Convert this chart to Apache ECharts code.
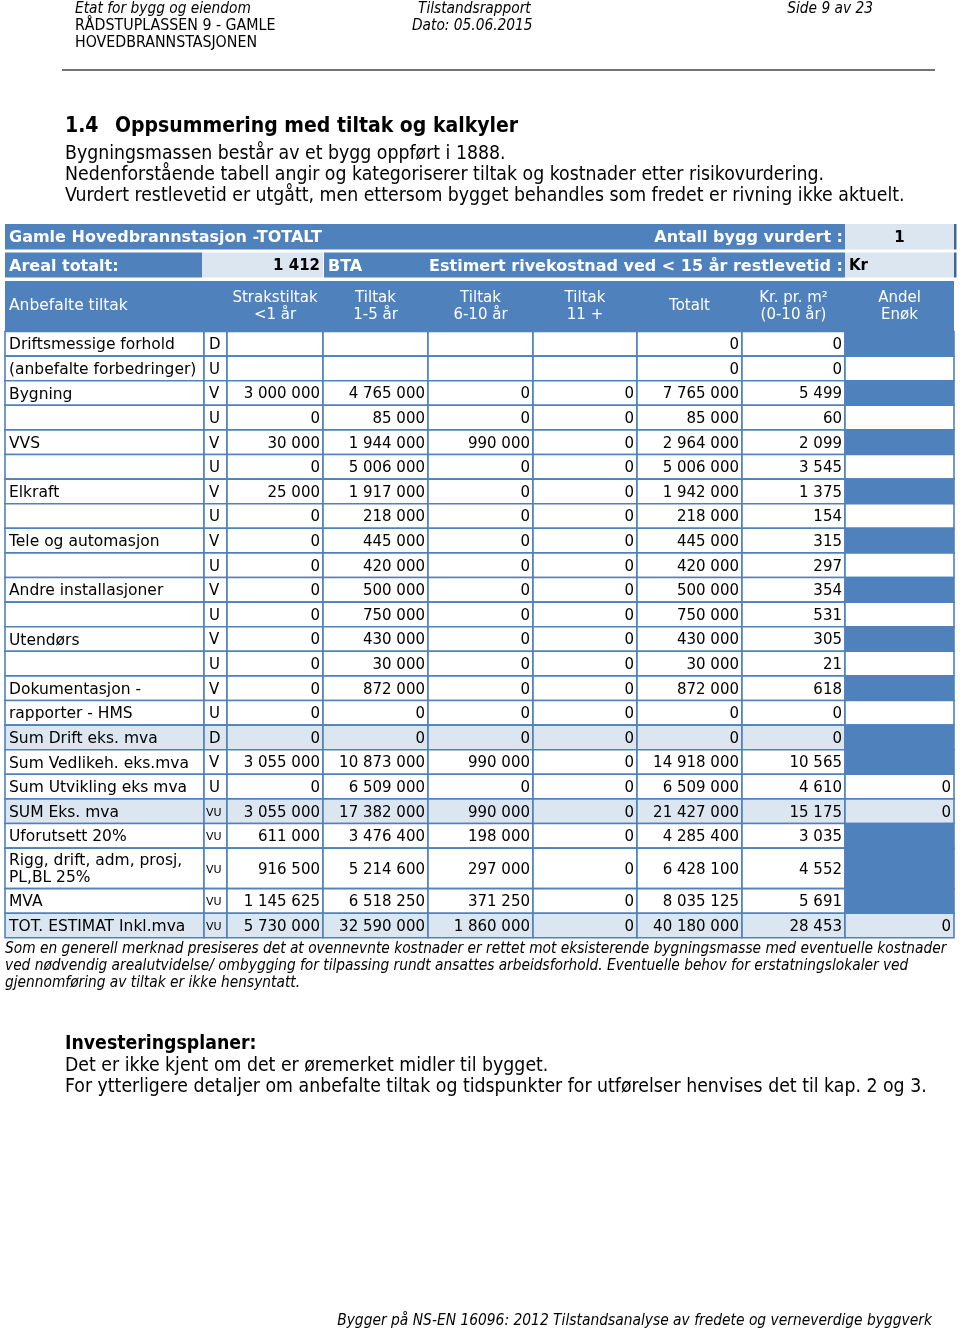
<!DOCTYPE html>
<html><head><meta charset="utf-8">
<script src="https://cdn.jsdelivr.net/npm/echarts@6/dist/echarts.min.js"></script>
<style>html,body{margin:0;padding:0;background:#fff}#c{width:960px;height:1330px}</style>
</head><body><div id="c"></div>
<script>
// ---------------- DATA ----------------
const rowLabels = ['Driftsmessige forhold', '(anbefalte forbedringer)', 'Bygning', '', 'VVS', '', 'Elkraft', '',
  'Tele og automasjon', '', 'Andre installasjoner', '', 'Utendørs', '', 'Dokumentasjon -', 'rapporter - HMS',
  'Sum Drift eks. mva', 'Sum Vedlikeh. eks.mva', 'Sum Utvikling eks mva', 'SUM Eks. mva', 'Uforutsett 20%',
  'Rigg, drift, adm, prosj,\nPL,BL 25%', 'MVA', 'TOT. ESTIMAT Inkl.mva'];
const rowCodes = ['D','U','V','U','V','U','V','U','V','U','V','U','V','U','V','U','D','V','U','VU','VU','VU','VU','VU'];
const strakstiltak = [null,null,3000000,0,30000,0,25000,0,0,0,0,0,0,0,0,0,0,3055000,0,3055000,611000,916500,1145625,5730000];
const tiltak1til5 = [null,null,4765000,85000,1944000,5006000,1917000,218000,445000,420000,500000,750000,430000,30000,872000,0,0,10873000,6509000,17382000,3476400,5214600,6518250,32590000];
const tiltak6til10 = [null,null,0,0,990000,0,0,0,0,0,0,0,0,0,0,0,0,990000,0,990000,198000,297000,371250,1860000];
const tiltak11pluss = [null,null,0,0,0,0,0,0,0,0,0,0,0,0,0,0,0,0,0,0,0,0,0,0];
const totalt = [0,0,7765000,85000,2964000,5006000,1942000,218000,445000,420000,500000,750000,430000,30000,872000,0,0,14918000,6509000,21427000,4285400,6428100,8035125,40180000];
const krPrM2 = [0,0,5499,60,2099,3545,1375,154,315,297,354,531,305,21,618,0,0,10565,4610,15175,3035,4552,5691,28453];
const andelEnok = [null,null,null,null,null,null,null,null,null,null,null,null,null,null,null,null,null,null,0,0,null,null,null,0];
const summaryRows = [16, 19, 23];
const columnHeaders = ['Anbefalte tiltak', 'Strakstiltak\n<1 år', 'Tiltak\n1-5 år', 'Tiltak\n6-10 år', 'Tiltak\n11 +', 'Totalt', 'Kr. pr. m²\n(0-10 år)', 'Andel\nEnøk'];
const tableTitle = 'Gamle Hovedbrannstasjon -TOTALT';
const antallByggLabel = 'Antall bygg vurdert :';
const antallBygg = 1;
const arealLabel = 'Areal totalt:';
const arealTotalt = 1412;
const arealUnit = 'BTA';
const riveLabel = 'Estimert rivekostnad ved < 15 år restlevetid :';
const riveValue = 'Kr';

// ---------------- LAYOUT / STYLE ----------------
const BLUE = '#4F81BD', LIGHT = '#DCE6F1', BORDER = '#4F81BD';
const FT = "'DejaVu Sans', Verdana, sans-serif";
const FP = "'DejaVu Sans Condensed', 'DejaVu Sans', sans-serif";
const COL = [5, 204, 227, 323, 428, 533, 637, 742, 845, 954];
const ROW_TOP0 = 331.5;
const rowHeight = i => (i === 21 ? 40.5 : 24.6);

function fmt(v) {
  if (v === null || v === undefined) return '';
  return String(v).replace(/\B(?=(\d{3})+(?!\d))/g, ' ');
}

const cells = [];
function addCell(x0, y0, x1, y1, fill, stroke, texts) {
  cells.push({ x0, y0, x1, y1, fill, stroke, texts: texts || [] });
}
function T(text, align, opt) { return Object.assign({ text, align, color: '#000', size: 15, weight: 'normal', pad: 3, dy: 1.5 }, opt || {}); }

// header row A
addCell(5, 224, 845, 249.5, BLUE, null, [
  T(tableTitle, 'left', { color: '#fff', weight: 'bold', size: 16, pad: 4 }),
  T(antallByggLabel, 'right', { color: '#fff', weight: 'bold', size: 16, pad: 2 })
]);
addCell(845, 224, 954, 249.5, LIGHT, null, [T(String(antallBygg), 'center', { weight: 'bold' })]);
// header row B
addCell(5, 252.5, 202, 277.5, BLUE, null, [T(arealLabel, 'left', { color: '#fff', weight: 'bold', size: 16, pad: 4 })]);
addCell(202, 252.5, 323, 277.5, LIGHT, null, [T(fmt(arealTotalt), 'right', { weight: 'bold', pad: 3 })]);
addCell(324, 252.5, 845, 277.5, BLUE, null, [
  T(arealUnit, 'left', { color: '#fff', weight: 'bold', size: 16, pad: 4 }),
  T(riveLabel, 'right', { color: '#fff', weight: 'bold', size: 16, pad: 2 })
]);
addCell(845, 252.5, 954, 277.5, LIGHT, null, [T(riveValue, 'left', { weight: 'bold', pad: 4 })]);
// right edge of the two info rows
addCell(954, 224, 956.5, 249.5, '#3F6797', null, []);
addCell(954, 252.5, 956.5, 277.5, '#3F6797', null, []);
// header row C
addCell(5, 281, 954, 331.5, BLUE, null, []);
addCell(5, 281, 227, 331.5, BLUE, null, [T(columnHeaders[0], 'left', { color: '#fff', size: 15.5, pad: 4, dy: 0 })]);
for (let c = 2; c < 9; c++) {
  addCell(COL[c], 281, COL[c + 1], 331.5, BLUE, null, [T(columnHeaders[c - 1], 'center', { color: '#fff', lh: 17, dy: 0 })]);
}

// data rows
const numericCols = [strakstiltak, tiltak1til5, tiltak6til10, tiltak11pluss, totalt, krPrM2];
let y = ROW_TOP0;
for (let r = 0; r < rowLabels.length; r++) {
  const h = rowHeight(r);
  const y0 = y, y1 = y + h;
  const bg = summaryRows.includes(r) ? LIGHT : '#fff';
  addCell(COL[0], y0, COL[1], y1, bg, BORDER, [T(rowLabels[r], 'left', { pad: 4, lh: 17, size: 15.5 })]);
  const code = rowCodes[r];
  addCell(COL[1], y0, COL[2], y1, bg, BORDER, [T(code, 'left', code === 'VU' ? { size: 11, pad: 2 } : { pad: 5 })]);
  for (let k = 0; k < numericCols.length; k++) {
    addCell(COL[2 + k], y0, COL[3 + k], y1, bg, BORDER, [T(fmt(numericCols[k][r]), 'right', { pad: 3 })]);
  }
  const andelBlue = andelEnok[r] === null && code !== 'U';
  addCell(COL[8], y0, COL[9], y1, andelBlue ? BLUE : bg, BORDER, [T(fmt(andelEnok[r]), 'right', { pad: 3 })]);
  y = y1;
}

function renderItem(params, api) {
  const c = cells[params.dataIndex];
  const p0 = api.coord([api.value(0), api.value(1)]);
  const p1 = api.coord([api.value(2), api.value(3)]);
  const children = [{
    type: 'rect',
    shape: { x: p0[0], y: p0[1], width: p1[0] - p0[0], height: p1[1] - p0[1] },
    style: { fill: c.fill, stroke: c.stroke || null, lineWidth: c.stroke ? 1.6 : 0 }
  }];
  c.texts.forEach(t => {
    if (!t.text) return;
    let tx = t.align === 'left' ? p0[0] + t.pad : t.align === 'right' ? p1[0] - t.pad : (p0[0] + p1[0]) / 2;
    children.push({
      type: 'text',
      style: {
        x: tx, y: (p0[1] + p1[1]) / 2 + (t.dy || 0), text: t.text,
        align: t.align, verticalAlign: 'middle',
        fontFamily: FT, fontSize: t.size, fontWeight: t.weight,
        lineHeight: t.lh || t.size + 2, fill: t.color
      }
    });
  });
  return { type: 'group', children };
}

// page texts
function txt(text, x, y, o) {
  o = o || {};
  return {
    type: 'text', silent: true,
    style: {
      x, y, text, align: o.align || 'left', verticalAlign: 'middle',
      fontFamily: o.family || FP, fontSize: o.size || 15.3, fontWeight: o.weight || 'normal',
      fontStyle: o.italic ? 'italic' : 'normal', fill: o.color || '#000'
    }
  };
}
const BODY = 19.3;
const graphics = [
  txt('Etat for bygg og eiendom', 75, 9, { italic: true }),
  txt('RÅDSTUPLASSEN 9 - GAMLE', 75, 26, { size: 15.8 }),
  txt('HOVEDBRANNSTASJONEN', 75, 43, { size: 15.8 }),
  txt('Tilstandsrapport', 418, 9, { italic: true }),
  txt('Dato: 05.06.2015', 412, 26, { italic: true }),
  txt('Side 9 av 23', 873, 9, { italic: true, align: 'right' }),
  { type: 'line', silent: true, shape: { x1: 62, y1: 70, x2: 935, y2: 70 }, style: { stroke: '#444', lineWidth: 1.5 } },
  txt('1.4', 65, 127, { size: 21, weight: 'bold' }),
  txt('Oppsummering med tiltak og kalkyler', 115, 127, { size: 21, weight: 'bold' }),
  txt('Bygningsmassen består av et bygg oppført i 1888.', 65, 154, { size: BODY }),
  txt('Nedenforstående tabell angir og kategoriserer tiltak og kostnader etter risikovurdering.', 65, 175, { size: BODY }),
  txt('Vurdert restlevetid er utgått, men ettersom bygget behandles som fredet er rivning ikke aktuelt.', 65, 196, { size: BODY }),
  { type: 'polygon', silent: true, shape: { points: [[630, 226.5], [637, 226.5], [637, 233]] }, style: { fill: '#E00000' } },
  txt('Som en generell merknad presiseres det at ovennevnte kostnader er rettet mot eksisterende bygningsmasse med eventuelle kostnader', 5, 949.5, { italic: true, size: 15.3 }),
  txt('ved nødvendig arealutvidelse/ ombygging for tilpassing rundt ansattes arbeidsforhold. Eventuelle behov for erstatningslokaler ved', 5, 966.5, { italic: true, size: 15.3 }),
  txt('gjennomføring av tiltak er ikke hensyntatt.', 5, 983.5, { italic: true, size: 15.3 }),
  txt('Investeringsplaner:', 65, 1044, { size: BODY, weight: 'bold' }),
  txt('Det er ikke kjent om det er øremerket midler til bygget.', 65, 1066, { size: BODY }),
  txt('For ytterligere detaljer om anbefalte tiltak og tidspunkter for utførelser henvises det til kap. 2 og 3.', 65, 1087, { size: BODY }),
  txt('Bygger på NS-EN 16096: 2012 Tilstandsanalyse av fredete og verneverdige byggverk', 932, 1321, { italic: true, size: 15.4, align: 'right' })
];

const chart = echarts.init(document.getElementById('c'), null, { renderer: 'canvas' });
chart.setOption({
  animation: false,
  backgroundColor: '#fff',
  grid: { left: 0, right: 0, top: 0, bottom: 0 },
  xAxis: { type: 'value', min: 0, max: 960, show: false },
  yAxis: { type: 'value', min: 0, max: 1330, inverse: true, show: false },
  series: [{
    type: 'custom', silent: true, clip: false,
    renderItem,
    data: cells.map(c => [c.x0, c.y0, c.x1, c.y1])
  }],
  graphic: graphics
});
</script>
</body></html>
